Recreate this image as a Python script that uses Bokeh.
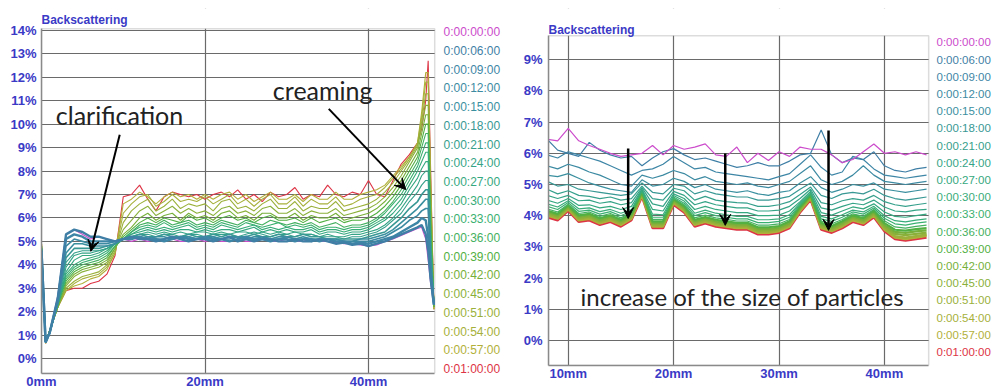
from bokeh.plotting import figure
from bokeh.models import Range1d, FixedTicker, Label, Arrow, VeeHead, BoxAnnotation
from bokeh.layouts import row
from bokeh.embed import file_html
from bokeh.resources import INLINE

# ---------------- data ----------------
time_labels = ["0:00:00:00", "0:00:06:00", "0:00:09:00", "0:00:12:00", "0:00:15:00",
               "0:00:18:00", "0:00:21:00", "0:00:24:00", "0:00:27:00", "0:00:30:00",
               "0:00:33:00", "0:00:36:00", "0:00:39:00", "0:00:42:00", "0:00:45:00",
               "0:00:51:00", "0:00:54:00", "0:00:57:00", "0:01:00:00"]
time_colors = ["#cc4ccc", "#3f7fa6", "#3e86a6", "#3c8aa2", "#3a8f9f",
               "#389894", "#36a08c", "#35a486", "#35a880", "#38ac79",
               "#3ab070", "#44b060", "#52b042", "#76b03a", "#8ab03a",
               "#9ab03a", "#a6b03a", "#b2b03a", "#dd3344"]

left_xticks = [0, 20, 40]
left_xtick_labels = ["0mm", "20mm", "40mm"]
left_yticks = [0, 1, 2, 3, 4, 5, 6, 7, 8, 9, 10, 11, 12, 13, 14]
left_ytick_labels = ["0%", "1%", "2%", "3%", "4%", "5%", "6%", "7%", "8%", "9%",
                     "10%", "11%", "12%", "13%", "14%"]
right_xticks = [10, 20, 30, 40]
right_xtick_labels = ["10mm", "20mm", "30mm", "40mm"]
right_yticks = [0, 1, 2, 3, 4, 5, 6, 7, 8, 9]
right_ytick_labels = ["0%", "1%", "2%", "3%", "4%", "5%", "6%", "7%", "8%", "9%"]

# left panel: position (mm) and backscattering (%) per time
left_x = [0, 0.5, 1, 2, 3, 4, 5, 6, 7, 8, 9, 10, 11, 12, 13, 14, 15, 16, 17, 18, 19,
          20, 21, 22, 23, 24, 25, 26, 27, 28, 29, 30, 31, 32, 33, 34, 35, 36, 37, 38, 39,
          40, 41, 42, 43, 44, 45, 46, 46.5, 47, 47.3, 47.6, 48]
left_curves = [
    [4.6, 0.7, 1.1, 2.7, 5.3, 5.5, 5.3, 5.1, 5.2, 5.1, 5.0,
     5.1, 5.0, 5.1, 5.0, 5.1, 5.0, 5.1, 5.0, 5.0, 5.1, 5.0, 5.1, 5.0, 5.0, 5.1, 5.0, 5.0, 5.1, 5.0, 5.0,
     5.1, 5.0, 5.0, 5.1, 5.0, 5.0, 4.95, 4.9, 4.9, 4.85, 4.8, 4.85, 5.0, 5.1, 5.25, 5.4,
     5.55, 5.6, 5.1, 4.2, 3.2, 2.3],
    [4.6, 0.7, 1.1, 2.6, 5.3, 5.5, 5.4, 5.2, 5.2, 5.1, 5.0,
     5.1, 5.2, 5.1, 5.1, 5.0, 5.1, 5.2, 5.1, 5.0, 5.1, 5.1, 5.0, 5.1, 5.2, 5.0, 5.1, 5.0, 5.1, 5.1, 5.0,
     5.0, 5.1, 5.0, 5.0, 5.1, 5.0, 4.9, 4.95, 4.85, 4.9, 4.8, 4.9, 5.0, 5.15, 5.3, 5.45,
     5.6, 5.7, 5.3, 4.6, 3.4, 2.3],
    [4.6, 0.7, 1.1, 2.5, 5.1, 5.3, 5.2, 5.0, 5.0, 5.0, 5.0,
     5.1, 5.1, 5.2, 5.1, 5.1, 5.0, 5.1, 5.2, 5.1, 5.1, 5.2, 5.1, 5.1, 5.0, 5.1, 5.2, 5.1, 5.1, 5.0, 5.1,
     5.1, 5.0, 5.1, 5.1, 5.0, 5.1, 5.0, 5.0, 4.9, 4.95, 4.9, 5.0, 5.1, 5.2, 5.4, 5.6,
     5.8, 6.0, 5.9, 5.2, 3.6, 2.3],
    [4.6, 0.7, 1.1, 2.5, 4.8, 5.1, 5.0, 4.9, 4.9, 4.9, 5.0,
     5.1, 5.2, 5.1, 5.2, 5.1, 5.1, 5.2, 5.1, 5.2, 5.1, 5.1, 5.2, 5.1, 5.1, 5.2, 5.1, 5.1, 5.2, 5.1, 5.1,
     5.2, 5.1, 5.1, 5.0, 5.1, 5.1, 5.0, 5.0, 5.0, 5.0, 5.0, 5.1, 5.2, 5.4, 5.6, 5.9,
     6.1, 6.3, 6.4, 6.4, 3.8, 2.3],
    [4.7, 0.7, 1.1, 2.4, 4.5, 4.9, 4.9, 4.8, 4.8, 4.8, 4.9,
     5.1, 5.2, 5.2, 5.1, 5.2, 5.2, 5.1, 5.2, 5.2, 5.1, 5.2, 5.2, 5.1, 5.2, 5.2, 5.1, 5.2, 5.2, 5.1, 5.2,
     5.2, 5.1, 5.2, 5.1, 5.1, 5.1, 5.1, 5.0, 5.0, 5.1, 5.1, 5.2, 5.3, 5.5, 5.8, 6.1,
     6.4, 6.6, 6.8, 6.8, 4.0, 2.3],
    [4.7, 0.7, 1.1, 2.4, 4.3, 4.7, 4.7, 4.7, 4.7, 4.8, 4.9,
     5.1, 5.2, 5.3, 5.2, 5.2, 5.3, 5.2, 5.2, 5.3, 5.2, 5.2, 5.3, 5.2, 5.3, 5.2, 5.2, 5.3, 5.2, 5.2, 5.3,
     5.2, 5.2, 5.3, 5.2, 5.2, 5.1, 5.1, 5.1, 5.1, 5.1, 5.2, 5.3, 5.4, 5.7, 6.0, 6.4,
     6.7, 7.0, 7.2, 7.2, 4.2, 2.3],
    [4.7, 0.7, 1.1, 2.4, 4.1, 4.5, 4.6, 4.6, 4.6, 4.7, 4.9,
     5.1, 5.2, 5.3, 5.3, 5.2, 5.3, 5.3, 5.2, 5.3, 5.3, 5.2, 5.3, 5.3, 5.3, 5.2, 5.3, 5.4, 5.3, 5.2, 5.3,
     5.3, 5.2, 5.3, 5.3, 5.2, 5.2, 5.2, 5.1, 5.2, 5.2, 5.3, 5.4, 5.6, 5.9, 6.2, 6.7,
     7.1, 7.4, 7.6, 7.6, 4.4, 2.3],
    [4.7, 0.7, 1.1, 2.3, 3.9, 4.4, 4.5, 4.5, 4.6, 4.7, 4.9,
     5.1, 5.2, 5.3, 5.4, 5.3, 5.4, 5.3, 5.4, 5.3, 5.4, 5.4, 5.3, 5.4, 5.3, 5.4, 5.4, 5.3, 5.4, 5.3, 5.4,
     5.3, 5.4, 5.3, 5.3, 5.2, 5.3, 5.2, 5.2, 5.3, 5.3, 5.4, 5.5, 5.7, 6.0, 6.4, 6.9,
     7.4, 7.8, 8.0, 8.0, 4.6, 2.3],
    [4.7, 0.7, 1.1, 2.3, 3.7, 4.2, 4.4, 4.4, 4.5, 4.7, 4.9,
     5.1, 5.3, 5.4, 5.5, 5.4, 5.5, 5.4, 5.5, 5.5, 5.4, 5.5, 5.4, 5.5, 5.5, 5.4, 5.5, 5.6, 5.4, 5.5, 5.4,
     5.5, 5.4, 5.4, 5.5, 5.3, 5.4, 5.4, 5.3, 5.4, 5.4, 5.5, 5.7, 5.9, 6.2, 6.6, 7.2,
     7.7, 8.1, 8.4, 8.4, 4.8, 2.3],
    [4.7, 0.7, 1.1, 2.3, 3.6, 4.0, 4.2, 4.3, 4.4, 4.6, 4.9,
     5.1, 5.3, 5.5, 5.6, 5.5, 5.6, 5.5, 5.6, 5.7, 5.5, 5.6, 5.5, 5.7, 5.6, 5.5, 5.6, 5.7, 5.5, 5.6, 5.5,
     5.6, 5.5, 5.5, 5.6, 5.4, 5.5, 5.5, 5.4, 5.5, 5.5, 5.6, 5.8, 6.0, 6.4, 6.8, 7.4,
     8.0, 8.4, 8.8, 8.8, 5.0, 2.3],
    [4.8, 0.7, 1.1, 2.3, 3.5, 3.9, 4.1, 4.2, 4.3, 4.5, 4.9,
     5.1, 5.4, 5.6, 5.7, 5.6, 5.8, 5.6, 5.7, 5.8, 5.6, 5.7, 5.6, 5.8, 5.7, 5.6, 5.8, 5.7, 5.6, 5.7, 5.8,
     5.6, 5.7, 5.6, 5.7, 5.5, 5.6, 5.6, 5.5, 5.6, 5.6, 5.7, 5.9, 6.2, 6.6, 7.0, 7.6,
     8.2, 8.7, 9.2, 9.2, 5.2, 2.3],
    [4.8, 0.7, 1.1, 2.3, 3.4, 3.8, 4.0, 4.1, 4.2, 4.4, 4.8,
     5.1, 5.4, 5.7, 5.8, 5.7, 5.9, 5.7, 5.8, 5.9, 5.7, 5.8, 5.7, 5.9, 5.8, 5.7, 5.9, 5.8, 5.7, 5.9, 5.8,
     5.7, 5.8, 5.7, 5.8, 5.6, 5.7, 5.8, 5.6, 5.7, 5.7, 5.8, 6.0, 6.3, 6.7, 7.2, 7.8,
     8.4, 9.0, 9.6, 9.6, 5.5, 2.3],
    [4.8, 0.7, 1.2, 2.3, 3.3, 3.7, 3.9, 4.0, 4.1, 4.3, 4.8,
     5.2, 5.5, 5.8, 6.0, 5.8, 6.0, 5.9, 5.8, 6.1, 5.9, 6.0, 5.8, 6.0, 6.1, 5.9, 6.0, 5.8, 6.0, 6.1, 5.9,
     5.9, 6.0, 5.8, 6.0, 5.8, 5.9, 6.0, 5.8, 5.9, 5.9, 6.0, 6.2, 6.5, 6.9, 7.4, 8.0,
     8.6, 9.3, 10.0, 10.0, 5.8, 2.2],
    [4.8, 0.7, 1.2, 2.2, 3.2, 3.6, 3.8, 3.9, 4.0, 4.2, 4.7,
     5.3, 5.6, 6.0, 6.2, 5.9, 6.1, 6.2, 5.9, 6.2, 6.0, 6.1, 5.9, 6.2, 6.3, 6.0, 6.1, 5.9, 6.2, 6.2, 6.0,
     6.0, 6.2, 5.9, 6.1, 6.0, 6.0, 6.2, 5.9, 6.0, 6.1, 6.2, 6.4, 6.7, 7.1, 7.6, 8.2,
     8.8, 9.6, 10.4, 10.4, 6.1, 2.2],
    [4.8, 0.7, 1.2, 2.2, 3.1, 3.5, 3.7, 3.8, 3.9, 4.1, 4.7,
     5.5, 5.9, 6.3, 6.5, 6.1, 6.3, 6.5, 6.2, 6.4, 6.2, 6.3, 6.1, 6.4, 6.5, 6.2, 6.3, 6.1, 6.4, 6.5, 6.2,
     6.2, 6.4, 6.1, 6.3, 6.2, 6.2, 6.4, 6.1, 6.2, 6.3, 6.4, 6.6, 6.9, 7.3, 7.8, 8.4,
     9.0, 9.9, 10.8, 10.8, 6.5, 2.2],
    [4.9, 0.7, 1.2, 2.2, 3.0, 3.3, 3.5, 3.6, 3.7, 4.0, 4.6,
     5.8, 6.3, 6.6, 6.8, 6.3, 6.5, 6.8, 6.4, 6.6, 6.5, 6.6, 6.3, 6.7, 6.8, 6.4, 6.5, 6.3, 6.6, 6.8, 6.4,
     6.4, 6.7, 6.3, 6.5, 6.4, 6.4, 6.7, 6.3, 6.4, 6.5, 6.6, 6.8, 7.1, 7.5, 8.0, 8.5,
     9.1, 10.1, 11.3, 11.3, 7.0, 2.2],
    [4.9, 0.65, 1.2, 2.2, 2.9, 3.2, 3.4, 3.5, 3.6, 3.9, 4.5,
     6.2, 6.6, 6.9, 7.0, 6.5, 6.7, 7.0, 6.7, 6.8, 6.7, 6.9, 6.6, 6.8, 7.0, 6.6, 6.8, 6.5, 6.8, 7.0, 6.6,
     6.6, 6.9, 6.5, 6.8, 6.6, 6.6, 6.9, 6.5, 6.6, 6.8, 6.9, 7.0, 7.3, 7.7, 8.1, 8.6,
     9.2, 10.3, 11.8, 11.8, 7.4, 2.1],
    [4.9, 0.65, 1.2, 2.2, 2.9, 3.1, 3.2, 3.4, 3.5, 3.8, 4.5,
     6.6, 6.8, 7.1, 6.9, 6.6, 6.9, 7.1, 6.9, 7.0, 6.8, 7.0, 6.8, 7.0, 7.1, 6.8, 7.0, 6.7, 6.9, 7.1, 6.8,
     6.8, 7.0, 6.7, 7.0, 6.8, 6.8, 7.1, 6.8, 6.8, 7.0, 7.1, 7.2, 7.4, 7.8, 8.2, 8.6,
     9.2, 10.5, 12.2, 12.2, 7.7, 2.1],
    [4.9, 0.65, 1.2, 2.2, 2.9, 3.0, 3.0, 3.2, 3.3, 3.6, 4.4,
     6.9, 7.0, 7.4, 6.8, 6.3, 6.9, 7.1, 7.0, 6.9, 7.0, 6.8, 7.0, 7.1, 6.9, 7.2, 6.8, 7.0, 6.7, 7.1, 6.9,
     7.0, 7.3, 6.8, 7.0, 6.9, 7.4, 7.0, 6.9, 7.1, 7.0, 7.6, 7.0, 6.9, 7.6, 8.3, 8.7,
     9.2, 9.8, 11.0, 12.7, 8.0, 2.1],
]

# right panel
right_x = [8, 9, 10, 11, 12, 13, 14, 15, 16, 17, 18, 19, 20, 21, 22, 23, 24, 25, 26,
           27, 28, 29, 30, 31, 32, 33, 34, 35, 36, 37, 38, 39, 40, 41, 42, 43, 44]
right_curves = [
    [6.45, 6.4, 6.8, 6.4, 6.25, 6.13, 6.0, 5.9, 5.95, 6.0, 6.25, 5.95, 6.25, 6.13, 6.2, 6.3, 5.95, 5.9, 6.2,
     5.7, 6.0, 5.77, 6.05, 5.9, 6.2, 6.13, 6.13, 5.95, 5.7, 5.8, 6.05, 6.3, 6.0, 6.05, 5.95, 6.05, 5.95],
    [6.45, 6.1, 6.0, 5.9, 6.35, 6.1, 5.95, 5.85, 5.9, 5.6, 5.85, 6.05, 6.15, 5.95, 5.8, 5.85, 5.75, 5.65, 5.55,
     5.6, 5.7, 5.6, 5.6, 5.75, 5.95, 6.0, 6.75, 5.95, 5.7, 5.85, 5.8, 6.05, 5.6, 5.45, 5.4, 5.5, 5.55],
    [5.95, 5.85, 6.05, 5.95, 5.85, 5.75, 5.6, 5.45, 5.3, 5.45, 5.5, 5.65, 5.9, 5.7, 5.5, 5.55, 5.4, 5.35, 5.3,
     5.25, 5.2, 5.15, 5.25, 5.35, 5.65, 5.95, 5.55, 5.3, 5.4, 5.9, 5.8, 5.5, 5.3, 5.25, 5.2, 5.25, 5.3],
    [5.6, 5.5, 5.65, 5.55, 5.4, 5.3, 5.15, 5.0, 4.95, 5.3, 5.2, 5.3, 5.45, 5.35, 5.15, 5.25, 5.1, 5.05, 5.0,
     5.05, 4.95, 4.9, 5.0, 5.1, 5.35, 5.6, 5.15, 5.0, 5.1, 5.3, 5.6, 5.3, 5.1, 5.05, 5.0, 5.05, 5.1],
    [5.3, 5.25, 5.35, 5.2, 5.05, 4.95, 4.85, 4.8, 4.75, 5.15, 4.95, 5.0, 5.2, 5.1, 4.9, 5.0, 4.85, 4.8, 4.75,
     4.8, 4.7, 4.65, 4.75, 4.8, 5.05, 5.25, 4.9, 4.75, 4.85, 5.0, 4.95, 5.05, 4.85, 4.8, 4.75, 4.8, 4.85],
    [5.1, 4.95, 5.0, 4.85, 4.8, 4.75, 4.7, 4.65, 4.7, 5.05, 4.75, 4.7, 5.0, 4.95, 4.7, 4.8, 4.7, 4.65, 4.6,
     4.6, 4.5, 4.5, 4.55, 4.62, 4.85, 5.05, 4.65, 4.55, 4.7, 4.75, 4.7, 4.85, 4.65, 4.55, 4.5, 4.55, 4.6],
    [4.85, 4.7, 4.8, 4.65, 4.62, 4.55, 4.6, 4.5, 4.55, 4.95, 4.55, 4.5, 4.88, 4.8, 4.5, 4.62, 4.5, 4.45, 4.42,
     4.4, 4.3, 4.3, 4.35, 4.45, 4.68, 4.92, 4.42, 4.35, 4.48, 4.55, 4.5, 4.65, 4.45, 4.35, 4.3, 4.35, 4.4],
    [4.65, 4.55, 4.65, 4.48, 4.5, 4.4, 4.45, 4.35, 4.42, 4.9, 4.38, 4.3, 4.78, 4.65, 4.35, 4.45, 4.35, 4.3, 4.25,
     4.25, 4.15, 4.15, 4.18, 4.3, 4.55, 4.85, 4.25, 4.18, 4.3, 4.4, 4.35, 4.5, 4.28, 4.15, 4.12, 4.18, 4.2],
    [4.5, 4.4, 4.55, 4.33, 4.35, 4.25, 4.3, 4.2, 4.3, 4.85, 4.2, 4.15, 4.7, 4.55, 4.2, 4.3, 4.2, 4.15, 4.1,
     4.1, 4.0, 4.0, 4.02, 4.15, 4.45, 4.78, 4.1, 4.02, 4.15, 4.28, 4.22, 4.38, 4.12, 3.98, 3.95, 4.0, 4.05],
    [4.38, 4.28, 4.48, 4.22, 4.25, 4.13, 4.2, 4.08, 4.2, 4.82, 4.05, 4.03, 4.65, 4.47, 4.08, 4.18, 4.08, 4.03, 3.98,
     3.98, 3.87, 3.87, 3.9, 4.03, 4.4, 4.73, 3.98, 3.9, 4.03, 4.18, 4.12, 4.3, 4.0, 3.84, 3.8, 3.86, 3.9],
    [4.3, 4.2, 4.42, 4.14, 4.18, 4.05, 4.13, 4.0, 4.15, 4.8, 3.95, 3.95, 4.6, 4.4, 4.0, 4.1, 4.0, 3.95, 3.9,
     3.9, 3.78, 3.78, 3.82, 3.95, 4.36, 4.7, 3.9, 3.82, 3.95, 4.12, 4.05, 4.25, 3.92, 3.74, 3.7, 3.76, 3.8],
    [4.22, 4.12, 4.37, 4.07, 4.12, 3.98, 4.07, 3.93, 4.1, 4.78, 3.88, 3.88, 4.56, 4.35, 3.93, 4.02, 3.93, 3.88, 3.83,
     3.83, 3.7, 3.7, 3.74, 3.88, 4.32, 4.68, 3.83, 3.74, 3.88, 4.06, 3.98, 4.2, 3.84, 3.64, 3.6, 3.66, 3.7],
    [4.16, 4.06, 4.33, 4.01, 4.06, 3.92, 4.01, 3.87, 4.06, 4.76, 3.82, 3.82, 4.53, 4.3, 3.87, 3.96, 3.87, 3.82, 3.77,
     3.77, 3.63, 3.63, 3.67, 3.82, 4.28, 4.66, 3.77, 3.67, 3.82, 4.01, 3.92, 4.16, 3.76, 3.55, 3.52, 3.57, 3.6],
    [4.12, 4.02, 4.3, 3.97, 4.02, 3.87, 3.97, 3.82, 4.02, 4.74, 3.77, 3.77, 4.5, 4.26, 3.82, 3.92, 3.82, 3.77, 3.72,
     3.72, 3.58, 3.58, 3.62, 3.77, 4.25, 4.64, 3.72, 3.62, 3.77, 3.97, 3.87, 4.12, 3.7, 3.48, 3.45, 3.5, 3.53],
    [4.08, 3.98, 4.28, 3.93, 3.98, 3.83, 3.93, 3.78, 3.98, 4.72, 3.73, 3.73, 4.47, 4.23, 3.78, 3.88, 3.78, 3.73, 3.68,
     3.68, 3.53, 3.54, 3.58, 3.73, 4.22, 4.62, 3.68, 3.58, 3.73, 3.93, 3.83, 4.08, 3.65, 3.42, 3.38, 3.42, 3.46],
    [4.05, 3.95, 4.25, 3.9, 3.95, 3.8, 3.9, 3.75, 3.95, 4.7, 3.7, 3.7, 4.45, 4.2, 3.75, 3.85, 3.75, 3.7, 3.65,
     3.65, 3.5, 3.5, 3.55, 3.7, 4.2, 4.6, 3.65, 3.55, 3.7, 3.9, 3.8, 4.05, 3.6, 3.35, 3.3, 3.35, 3.4],
    [4.03, 3.93, 4.22, 3.88, 3.93, 3.78, 3.88, 3.73, 3.93, 4.67, 3.68, 3.68, 4.42, 4.18, 3.73, 3.83, 3.73, 3.68, 3.63,
     3.63, 3.48, 3.48, 3.53, 3.68, 4.17, 4.57, 3.63, 3.53, 3.68, 3.88, 3.78, 4.03, 3.58, 3.33, 3.28, 3.33, 3.38],
    [4.0, 3.9, 4.2, 3.85, 3.9, 3.75, 3.85, 3.7, 3.9, 4.65, 3.65, 3.65, 4.4, 4.15, 3.7, 3.8, 3.7, 3.65, 3.6,
     3.6, 3.45, 3.45, 3.5, 3.65, 4.15, 4.55, 3.6, 3.5, 3.65, 3.85, 3.75, 4.0, 3.55, 3.3, 3.25, 3.3, 3.35],
    [3.95, 3.85, 4.15, 3.8, 3.85, 3.7, 3.8, 3.65, 3.85, 4.6, 3.6, 3.6, 4.35, 4.1, 3.65, 3.75, 3.65, 3.6, 3.55,
     3.55, 3.4, 3.4, 3.45, 3.6, 4.1, 4.5, 3.55, 3.45, 3.6, 3.8, 3.7, 3.95, 3.5, 3.25, 3.2, 3.25, 3.3],
]

# annotations (data units)
left_notes = [("clarification", 1.75, 10.4), ("creaming", 28.3, 11.45)]
left_arrows = [(9.57, 9.55, 6.03, 4.58), (35.14, 10.65, 44.56, 7.21)]
right_notes = [("increase of the size of particles", 11.17, 1.41)]
right_arrows = [(15.69, 6.15, 15.69, 3.91), (24.9, 5.99, 24.9, 3.69), (34.7, 6.73, 34.7, 3.53)]

# ---------------- styling ----------------
BLUE = "#3a3ac6"
GRID = "#6a6a6a"
EDGE = "#8a8a8a"
TICK_FONT = "Liberation Sans"
NOTE_FONT = "Lato"


def build_panel(width, height, border_left, border_bottom, xr, yr, box, xticks, xlabels,
                yticks, ylabels, ystandoff):
    # frame covers plot box + legend column + title band; box = (x0, x1, y0, y1) of the chart area
    p = figure(width=width, height=height, x_range=Range1d(*xr), y_range=Range1d(*yr),
               output_backend="svg", toolbar_location=None,
               min_border_left=border_left, min_border_right=0, min_border_top=8,
               min_border_bottom=border_bottom)
    x0, x1, y0, y1 = box
    p.xaxis.ticker = FixedTicker(ticks=xticks)
    p.xaxis.major_label_overrides = dict(zip(xticks, xlabels))
    p.yaxis.ticker = FixedTicker(ticks=yticks)
    p.yaxis.major_label_overrides = dict(zip(yticks, ylabels))
    p.xaxis.bounds = (x0, x1)
    p.yaxis.bounds = (y0, y1)
    p.xgrid.ticker = FixedTicker(ticks=xticks)
    p.ygrid.ticker = FixedTicker(ticks=yticks)
    p.grid.grid_line_color = GRID
    p.grid.grid_line_width = 1.2
    for ax in (p.xaxis, p.yaxis):
        ax.axis_line_color = EDGE
        ax.axis_line_width = 1.5
        ax.major_tick_line_color = None
        ax.minor_tick_line_color = None
        ax.major_tick_out = 0
        ax.major_tick_in = 0
        ax.major_label_text_color = BLUE
        ax.major_label_text_font = TICK_FONT
        ax.major_label_text_font_style = "bold"
        ax.major_label_text_font_size = "13px"
    p.xaxis.major_label_standoff = 0
    p.yaxis.major_label_standoff = ystandoff
    p.outline_line_color = None
    p.background_fill_color = "white"
    p.border_fill_color = "white"
    # white masks over grid outside the chart box (legend column, title band)
    p.add_layout(BoxAnnotation(left=x1, fill_color="white", fill_alpha=1, line_alpha=0, level="underlay"))
    p.add_layout(BoxAnnotation(bottom=y1, fill_color="white", fill_alpha=1, line_alpha=0, level="underlay"))
    # chart box outline
    p.add_layout(BoxAnnotation(left=x0, right=x1, bottom=y0, top=y1, fill_alpha=0,
                               line_color=EDGE, line_width=1.5, level="underlay"))
    return p


def add_texts(p, box, title_y, legend_x, legend_ys, legend_size, notes, arrows, note_size, arrow_w):
    x0 = box[0]
    p.add_layout(Label(x=x0, y=title_y, text="Backscattering", text_color=BLUE,
                       text_font=TICK_FONT, text_font_style="bold", text_font_size="12px",
                       text_baseline="middle", text_align="left"))
    for lab, col, ly in zip(time_labels, time_colors, legend_ys):
        p.add_layout(Label(x=legend_x, y=ly, text=lab, text_color=col, text_font=TICK_FONT,
                           text_font_size=legend_size, text_baseline="middle", text_align="left"))
    for txt, x, y in notes:
        p.add_layout(Label(x=x, y=y, text=txt, text_font=NOTE_FONT, text_font_size=note_size,
                           text_color="#222222", text_baseline="middle", text_align="left"))
    for xa, ya, xb, yb in arrows:
        p.add_layout(Arrow(x_start=xa, y_start=ya, x_end=xb, y_end=yb, line_width=arrow_w,
                           line_color="black",
                           end=VeeHead(size=11, fill_color="black", line_color="black")))


# ---------------- left panel ----------------
# pixel geometry: frame from x=41 (0 mm) with 8.175 px/mm; 0 % at y=360 with 23.57 px/%
L_PXX, L_PXY = 8.175, 23.57
L_W, L_BL, L_BB = 503, 41, 22
L_FH = 375 - 8
L_H = 8 + L_FH + L_BB
L_FW = L_W - L_BL
L_Y0 = -(375 - 360) / L_PXY
L_YR = (L_Y0, L_Y0 + L_FH / L_PXY)
L_XR = (0.0, L_FW / L_PXX)
L_BOX = (0.0, 48.1, L_Y0, 14.07)
p1 = build_panel(L_W, L_H, L_BL, L_BB, L_XR, L_YR, L_BOX, left_xticks, left_xtick_labels,
                 left_yticks, left_ytick_labels, 5)
left_order = [0] + list(range(len(left_curves) - 1, 0, -1))
for i in left_order:
    w = 2.4 if i in (1, 2) else (1.6 if i in (3, 4, 5) else 1.1)
    p1.line(left_x, left_curves[i], line_color=time_colors[i], line_width=w)
left_leg_y = [(360 - (32 + k * 18.8)) / L_PXY for k in range(len(time_labels))]
add_texts(p1, L_BOX, (360 - 20) / L_PXY, (443 - 41) / L_PXX, left_leg_y, "12px",
          left_notes, left_arrows, "25px", 2)

# ---------------- right panel ----------------
# pixel geometry (page coords): 10 mm at x=567.7 with 10.54 px/mm; 0 % at y=340 with 31.2 px/%
R_PXX, R_PXY = 10.54, 31.2
R_W, R_H, R_BL, R_BB = 997 - L_W, 389, 548 - L_W, 24
R_FW, R_FH = R_W - R_BL, R_H - 8 - R_BB
R_X0 = 10 - (567.7 - (L_W + R_BL)) / R_PXX
R_XR = (R_X0, R_X0 + R_FW / R_PXX)
R_Y0 = -(365 - 340) / R_PXY
R_YR = (R_Y0, R_Y0 + R_FH / R_PXY)
R_BOX = (R_X0, 44.2, R_Y0, 9.77)
p2 = build_panel(R_W, R_H, R_BL, R_BB, R_XR, R_YR, R_BOX, right_xticks, right_xtick_labels,
                 right_yticks, right_ytick_labels, 6)
for i in range(len(right_curves) - 1, -1, -1):
    w = 2.2 if i >= 12 else 1.2
    p2.line(right_x, right_curves[i], line_color=time_colors[i], line_width=w)
right_leg_y = [(340 - (41.9 + k * 17.2)) / R_PXY for k in range(len(time_labels))]
add_texts(p2, R_BOX, (340 - 29) / R_PXY, 10 + (936 - 567.7) / R_PXX, right_leg_y, "11.5px",
          right_notes, right_arrows, "24px", 2.5)

layout = row(p1, p2)
open("out.html", "w").write(file_html(layout, INLINE))
